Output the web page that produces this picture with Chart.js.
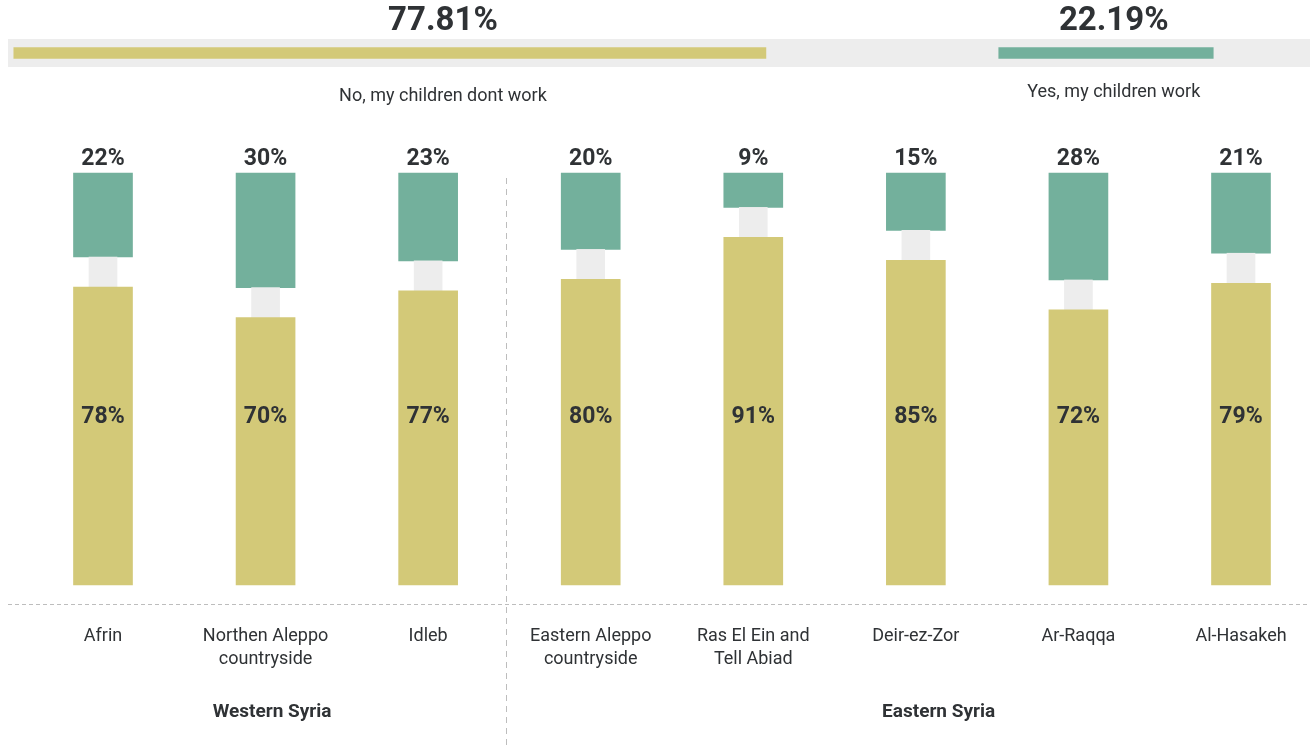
<!DOCTYPE html>
<html>
<head>
<meta charset="utf-8">
<script src="https://cdn.jsdelivr.net/npm/chart.js@4.4.0/dist/chart.umd.min.js"></script>
<style>
  html, body { margin: 0; padding: 0; background: #fff; }
  #wrap { position: relative; width: 1313px; height: 747px; }
  #wrap canvas { position: absolute; left: 0; top: 0; }
</style>
</head>
<body>
<div id="wrap">
  <canvas id="main" width="1313" height="747"></canvas>
  <canvas id="summary" width="1313" height="120"></canvas>
</div>
<script>
// Données
const regions = [
    ['Afrin'],
    ['Northen Aleppo', 'countryside'],
    ['Idleb'],
    ['Eastern Aleppo', 'countryside'],
    ['Ras El Ein and', 'Tell Abiad'],
    ['Deir-ez-Zor'],
    ['Ar-Raqqa'],
    ['Al-Hasakeh']
];
const noWork = [78, 70, 77, 80, 91, 85, 72, 79];
const yesWork = [22, 30, 23, 20, 9, 15, 28, 21];
const groupNames = ['Western Syria', 'Eastern Syria'];
const totalLabels = ['No, my children dont work', 'Yes, my children work'];
const totalValues = [77.81, 22.19];

// Mise en page / styles
const YELLOW = '#d3c978';
const GREEN = '#73b09c';
const GREY = '#ededed';
const TEXT = '#2f3235';
const FONT = 'Roboto, "Liberation Sans", sans-serif';
const GAP = 7.85;              // espace gris entre les deux segments (unités de l'axe y)
const NO_LABEL_LEVEL = 44.0;   // hauteur des étiquettes dans les barres jaunes
const SEPARATOR_AT = 2.48;     // position du séparateur (index de catégorie)
const GROUP_AT = [1.04, 5.14]; // centre des titres de groupe
const GREEN_START = 101.9;     // début de la barre verte du résumé
const TOTAL_LABEL_AT = [44.4, 113.8];

// Graphique principal
new Chart(document.getElementById('main').getContext('2d'), {
    type: 'bar',
    data: {
        labels: regions,
        datasets: [
            { label: 'No', data: noWork, backgroundColor: YELLOW, barThickness: 59, clip: false },
            { label: 'gap', data: regions.map(() => GAP), backgroundColor: GREY, barThickness: 28, clip: false },
            { label: 'Yes', data: yesWork, backgroundColor: GREEN, barThickness: 59, clip: false }
        ]
    },
    options: {
        responsive: false,
        animation: false,
        layout: { padding: { left: 103, right: 72, top: 173, bottom: 0 } },
        plugins: { legend: { display: false }, tooltip: { enabled: false } },
        scales: {
            x: {
                stacked: true,
                offset: false,
                grid: { display: false, drawTicks: false },
                border: { display: false },
                ticks: {
                    padding: 40,
                    color: TEXT,
                    autoSkip: false,
                    maxRotation: 0,
                    font: { family: FONT, size: 18, lineHeight: '23px' }
                },
                afterFit: (scale) => {
                    scale.height = 162;
                    scale.paddingLeft = 0;
                    scale.paddingRight = 0;
                }
            },
            y: {
                stacked: true,
                display: false,
                min: 0,
                max: 100 + GAP
            }
        }
    },
    plugins: [{
        id: 'decorations',
        afterDraw: (chart) => {
            const ctx = chart.ctx;
            const xs = chart.scales.x;
            const ys = chart.scales.y;
            const area = chart.chartArea;

            ctx.save();
            // Lignes pointillées
            ctx.strokeStyle = '#bdbdbd';
            ctx.lineWidth = 1;
            ctx.setLineDash([4, 3]);
            ctx.beginPath();
            ctx.moveTo(8, area.bottom + 19.5);
            ctx.lineTo(1310, area.bottom + 19.5);
            ctx.stroke();
            const sx = Math.round(xs.getPixelForValue(SEPARATOR_AT)) + 0.5;
            ctx.setLineDash([6, 5]);
            ctx.beginPath();
            ctx.moveTo(sx, area.top + 5);
            ctx.lineTo(sx, chart.height);
            ctx.stroke();
            ctx.setLineDash([]);

            // Étiquettes
            ctx.fillStyle = TEXT;
            ctx.textAlign = 'center';
            ctx.textBaseline = 'middle';
            ctx.font = 'bold 23px ' + FONT;
            const yesMeta = chart.getDatasetMeta(2);
            yesMeta.data.forEach((bar, i) => {
                ctx.fillText(yesWork[i] + '%', bar.x, bar.y - 14);
            });
            const noMeta = chart.getDatasetMeta(0);
            const ny = ys.getPixelForValue(NO_LABEL_LEVEL);
            noMeta.data.forEach((bar, i) => {
                ctx.fillText(noWork[i] + '%', bar.x, ny);
            });

            // Groupes
            ctx.font = 'bold 19px ' + FONT;
            groupNames.forEach((name, i) => {
                ctx.fillText(name, xs.getPixelForValue(GROUP_AT[i]), 712);
            });
            ctx.restore();
        }
    }]
});

// Résumé en haut
new Chart(document.getElementById('summary').getContext('2d'), {
    type: 'bar',
    data: {
        labels: ['total'],
        datasets: [
            { label: totalLabels[0], data: [[0, totalValues[0]]], backgroundColor: YELLOW, barThickness: 11, grouped: false },
            { label: totalLabels[1], data: [[GREEN_START, GREEN_START + totalValues[1]]], backgroundColor: GREEN, barThickness: 11, grouped: false }
        ]
    },
    options: {
        indexAxis: 'y',
        responsive: false,
        animation: false,
        layout: { padding: { left: 8, right: 3, top: 39, bottom: 53 } },
        plugins: { legend: { display: false }, tooltip: { enabled: false } },
        scales: {
            x: { type: 'linear', display: false, min: -0.6, max: 134.1 },
            y: { display: false }
        }
    },
    plugins: [{
        id: 'track',
        beforeDatasetsDraw: (chart) => {
            const a = chart.chartArea;
            chart.ctx.save();
            chart.ctx.fillStyle = GREY;
            chart.ctx.fillRect(a.left, a.top, a.right - a.left, a.bottom - a.top);
            chart.ctx.restore();
        },
        afterDatasetsDraw: (chart) => {
            const ctx = chart.ctx;
            const xs = chart.scales.x;
            ctx.save();
            ctx.fillStyle = TEXT;
            ctx.textAlign = 'center';
            ctx.textBaseline = 'middle';
            totalValues.forEach((v, i) => {
                const x = xs.getPixelForValue(TOTAL_LABEL_AT[i]);
                ctx.font = 'bold 33px ' + FONT;
                ctx.fillText(v.toFixed(2) + '%', x, 22);
                ctx.font = '18px ' + FONT;
                ctx.fillText(totalLabels[i], x, i === 0 ? 96 : 92);
            });
            ctx.restore();
        }
    }]
});
</script>
</body>
</html>
